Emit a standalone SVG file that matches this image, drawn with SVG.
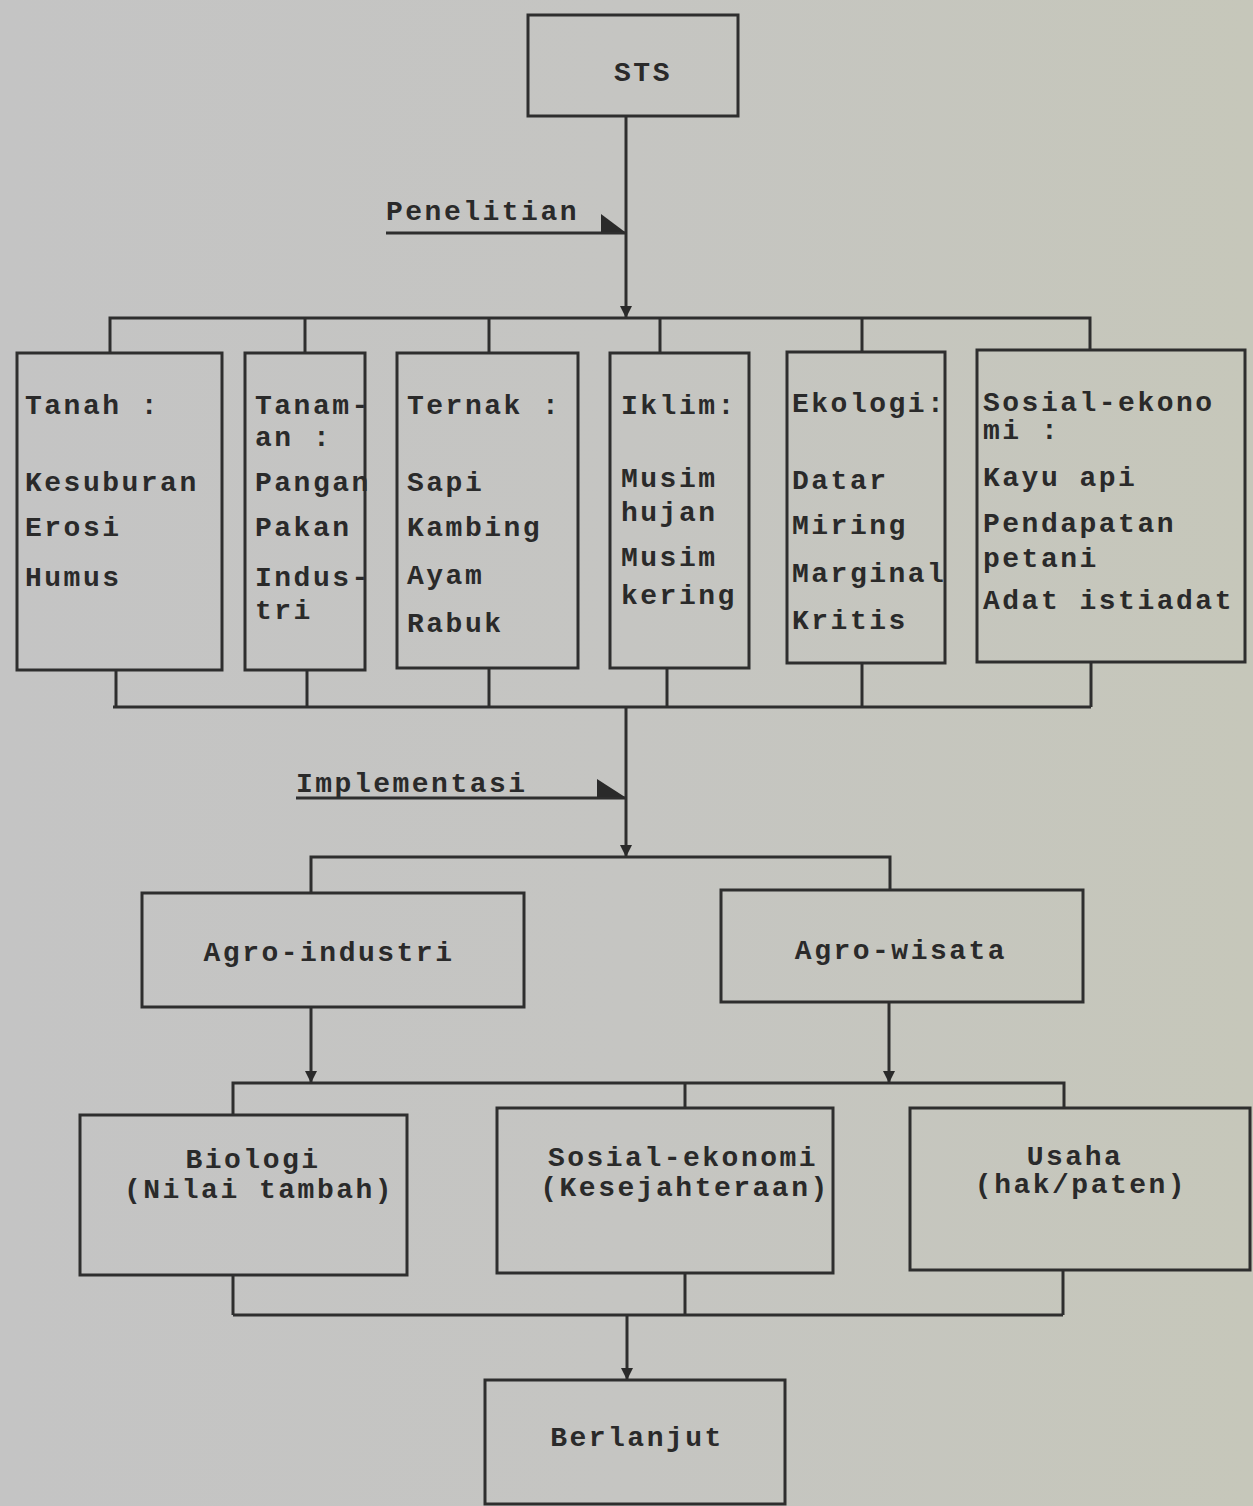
<svg xmlns="http://www.w3.org/2000/svg" width="1253" height="1506" viewBox="0 0 1253 1506">
<defs>
<linearGradient id="bg" x1="0" y1="0" x2="1" y2="0">
<stop offset="0" stop-color="#c4c4c4"/>
<stop offset="0.5" stop-color="#c5c5c2"/>
<stop offset="1" stop-color="#c6c7ba"/>
</linearGradient>
<marker id="ah" viewBox="0 0 10 10" refX="10" refY="5" markerWidth="4" markerHeight="4" orient="auto" markerUnits="strokeWidth">
<path d="M0,0 L10,5 L0,10 z" fill="#2a2a2a"/>
</marker>
</defs>
<style>
.box{fill:none;stroke:#2e2e2e;stroke-width:3}
.ln{fill:none;stroke:#2e2e2e;stroke-width:3}
.t{font-family:"Liberation Mono",monospace;font-weight:bold;font-size:28px;letter-spacing:2.5px;fill:#2a2a2a}
.c{text-anchor:middle}
</style>
<rect x="0" y="0" width="1253" height="1506" fill="url(#bg)"/>

<g id="connectors">
<line class="ln" x1="626" y1="116" x2="626" y2="318" marker-end="url(#ah)"/>
<polyline class="ln" points="110,352 110,318 1090,318 1090,350"/>
<line class="ln" x1="305" y1="318" x2="305" y2="353"/>
<line class="ln" x1="489" y1="318" x2="489" y2="353"/>
<line class="ln" x1="660" y1="318" x2="660" y2="353"/>
<line class="ln" x1="862" y1="318" x2="862" y2="352"/>
<line class="ln" x1="116" y1="670" x2="116" y2="707"/>
<line class="ln" x1="307" y1="670" x2="307" y2="707"/>
<line class="ln" x1="489" y1="668" x2="489" y2="707"/>
<line class="ln" x1="667" y1="668" x2="667" y2="707"/>
<line class="ln" x1="862" y1="663" x2="862" y2="707"/>
<line class="ln" x1="1091" y1="662" x2="1091" y2="707"/>
<line class="ln" x1="113" y1="707" x2="1091" y2="707"/>
<line class="ln" x1="626" y1="707" x2="626" y2="857" marker-end="url(#ah)"/>
<polyline class="ln" points="311,893 311,857 890,857 890,890"/>
<line class="ln" x1="311" y1="1007" x2="311" y2="1083" marker-end="url(#ah)"/>
<line class="ln" x1="889" y1="1002" x2="889" y2="1083" marker-end="url(#ah)"/>
<polyline class="ln" points="233,1115 233,1083 1064,1083 1064,1108"/>
<line class="ln" x1="685" y1="1083" x2="685" y2="1108"/>
<line class="ln" x1="233" y1="1275" x2="233" y2="1315"/>
<line class="ln" x1="685" y1="1273" x2="685" y2="1315"/>
<line class="ln" x1="1063" y1="1270" x2="1063" y2="1315"/>
<line class="ln" x1="233" y1="1315" x2="1063" y2="1315"/>
<line class="ln" x1="627" y1="1315" x2="627" y2="1380" marker-end="url(#ah)"/>
<line class="ln" x1="386" y1="233" x2="626" y2="233"/>
<polygon points="601,214 625,232 601,232" fill="#2a2a2a"/>
<line class="ln" x1="296" y1="798" x2="626" y2="798"/>
<polygon points="597,779 625,797 597,797" fill="#2a2a2a"/>
<text class="t" x="386" y="220">Penelitian</text>
<text class="t" x="296" y="792">Implementasi</text>
</g>

<g id="sts">
<rect class="box" x="528" y="15" width="210" height="101"/>
<text class="t c" x="643" y="81">STS</text>
</g>

<g id="tanah">
<rect class="box" x="17" y="353" width="205" height="317"/>
<text class="t" x="25" y="414">Tanah :</text>
<text class="t" x="25" y="491">Kesuburan</text>
<text class="t" x="25" y="536">Erosi</text>
<text class="t" x="25" y="586">Humus</text>
</g>

<g id="tanaman">
<rect class="box" x="245" y="353" width="120" height="317"/>
<text class="t" x="255" y="414">Tanam-</text>
<text class="t" x="255" y="446">an :</text>
<text class="t" x="255" y="491">Pangan</text>
<text class="t" x="255" y="536">Pakan</text>
<text class="t" x="255" y="586">Indus-</text>
<text class="t" x="255" y="619">tri</text>
</g>

<g id="ternak">
<rect class="box" x="397" y="353" width="181" height="315"/>
<text class="t" x="407" y="414">Ternak :</text>
<text class="t" x="407" y="491">Sapi</text>
<text class="t" x="407" y="536">Kambing</text>
<text class="t" x="407" y="584">Ayam</text>
<text class="t" x="407" y="632">Rabuk</text>
</g>

<g id="iklim">
<rect class="box" x="610" y="353" width="139" height="315"/>
<text class="t" x="621" y="414">Iklim:</text>
<text class="t" x="621" y="487">Musim</text>
<text class="t" x="621" y="521">hujan</text>
<text class="t" x="621" y="566">Musim</text>
<text class="t" x="621" y="604">kering</text>
</g>

<g id="ekologi">
<rect class="box" x="787" y="352" width="158" height="311"/>
<text class="t" x="792" y="412">Ekologi:</text>
<text class="t" x="792" y="489">Datar</text>
<text class="t" x="792" y="534">Miring</text>
<text class="t" x="792" y="582">Marginal</text>
<text class="t" x="792" y="629">Kritis</text>
</g>

<g id="sosial">
<rect class="box" x="977" y="350" width="268" height="312"/>
<text class="t" x="983" y="411">Sosial-ekono</text>
<text class="t" x="983" y="439">mi :</text>
<text class="t" x="983" y="486">Kayu api</text>
<text class="t" x="983" y="532">Pendapatan</text>
<text class="t" x="983" y="567">petani</text>
<text class="t" x="983" y="609">Adat istiadat</text>
</g>

<g id="agro-industri">
<rect class="box" x="142" y="893" width="382" height="114"/>
<text class="t c" x="329" y="961">Agro-industri</text>
</g>

<g id="agro-wisata">
<rect class="box" x="721" y="890" width="362" height="112"/>
<text class="t c" x="901" y="959">Agro-wisata</text>
</g>

<g id="biologi">
<rect class="box" x="80" y="1115" width="327" height="160"/>
<text class="t c" x="253" y="1168">Biologi</text>
<text class="t c" x="259" y="1198">(Nilai tambah)</text>
</g>

<g id="sosial-ekonomi">
<rect class="box" x="497" y="1108" width="336" height="165"/>
<text class="t c" x="683" y="1166">Sosial-ekonomi</text>
<text class="t c" x="685" y="1196">(Kesejahteraan)</text>
</g>

<g id="usaha">
<rect class="box" x="910" y="1108" width="340" height="162"/>
<text class="t c" x="1075" y="1165">Usaha</text>
<text class="t c" x="1081" y="1193">(hak/paten)</text>
</g>

<g id="berlanjut">
<rect class="box" x="485" y="1380" width="300" height="124"/>
<text class="t c" x="637" y="1446">Berlanjut</text>
</g>
</svg>
